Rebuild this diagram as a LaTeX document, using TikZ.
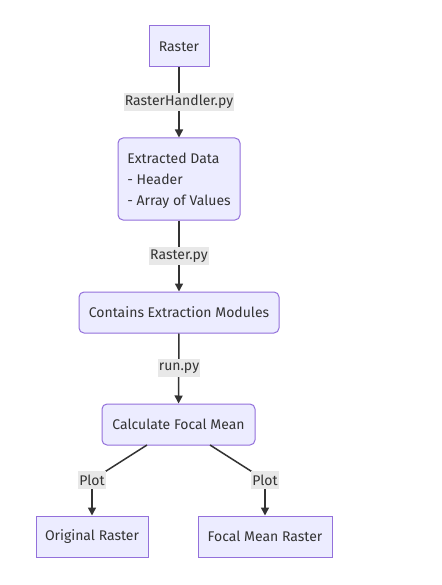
\documentclass[tikz,border=0pt]{standalone}
\usepackage{fontspec}
\setmainfont{Fira Sans}
\usetikzlibrary{arrows.meta}
\definecolor{nodefill}{HTML}{ECECFF}
\definecolor{nodeborder}{HTML}{9370DB}
\definecolor{lblfill}{HTML}{E8E8E8}
\definecolor{txt}{HTML}{333333}
\begin{document}
\begin{tikzpicture}[x=1pt,y=-1pt,
  box/.style={draw=nodeborder, fill=nodefill, line width=1pt, text=txt, font=\fontsize{14}{21}\selectfont, inner sep=0pt},
  rbox/.style={box, rounded corners=5pt},
  lbl/.style={fill=lblfill, text=txt, font=\fontsize{14}{16}\selectfont, inner sep=1.2pt, minimum height=18pt},
  conn/.style={draw=txt, line width=1.5pt},
  arr/.style={conn, -{Triangle[length=8pt,width=8pt]}}]
\useasboundingbox (0,0) rectangle (441,585);
\fill[white] (0,0) rectangle (441,585);
\node[box, minimum width=60pt, minimum height=41pt] (raster) at (179,46.5) {Raster};
\node[rbox, minimum width=122pt, minimum height=82pt, align=left, text depth=0pt] (ext) at (179,179) {Extracted Data\\- Header\\- Array of Values};
\node[rbox, minimum width=200pt, minimum height=41pt] (cem) at (179,312.5) {Contains Extraction Modules};
\node[rbox, minimum width=153pt, minimum height=41pt] (cfm) at (178.5,424.5) {Calculate Focal Mean};
\node[box, minimum width=112pt, minimum height=41pt] (orig) at (92,536.5) {Original Raster};
\node[box, minimum width=134pt, minimum height=41pt] (fmr) at (265,536.5) {Focal Mean Raster};
\coordinate (s1) at (147,445);
\coordinate (b1) at (92,480);
\coordinate (s2) at (210,445);
\coordinate (b2) at (265,480);
\draw[arr] (raster) -- (ext);
\draw[arr] (ext) -- (cem);
\draw[arr] (cem) -- (cfm);
\draw[conn] (s1) -- (b1);
\draw[arr] (b1) -- (orig);
\draw[conn] (s2) -- (b2);
\draw[arr] (b2) -- (fmr);
\node[lbl] (l1) at (179,102) {RasterHandler.py};
\node[lbl] (l2) at (179,256) {Raster.py};
\node[lbl] (l3) at (179,368) {run.py};
\node[lbl] (l4) at (b1) {Plot};
\node[lbl] (l5) at (b2) {Plot};
\end{tikzpicture}
\end{document}
